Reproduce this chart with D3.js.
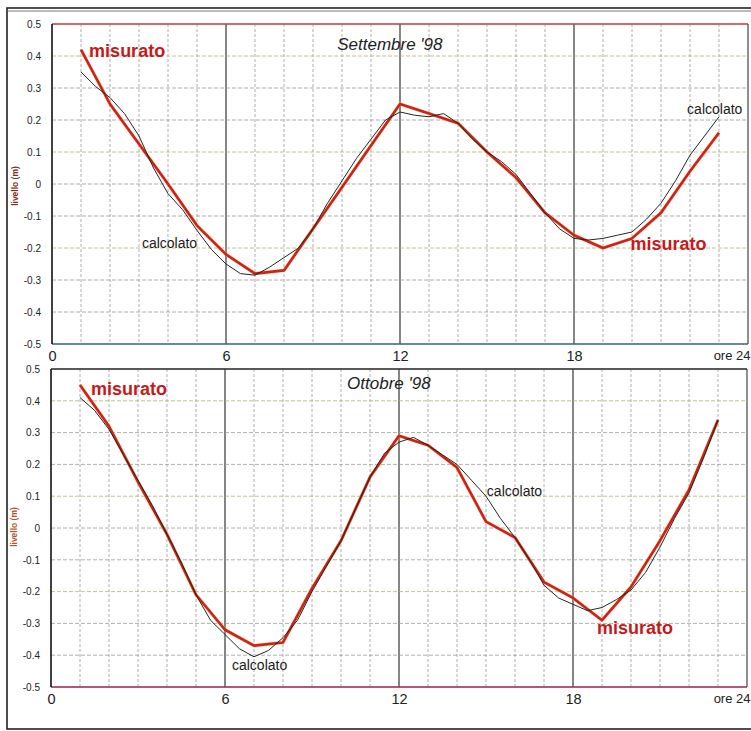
<!DOCTYPE html>
<html><head><meta charset="utf-8">
<script src="https://cdn.jsdelivr.net/npm/d3@7"></script>
<style>
html,body{margin:0;padding:0;background:#fff;}
svg{display:block;font-family:"Liberation Sans",Arial,sans-serif;}
</style></head>
<body>
<svg id="c" width="751" height="731"></svg>
<script>
// ---- data ----
const hoursMis = [1,2,3,4,5,6,7,8,9,10,11,12,13,14,15,16,17,18,19,20,21,22,23];
const hoursCalc = [1,1.5,2,2.5,3,3.5,4,4.5,5,5.5,6,6.5,7,7.5,8,8.5,9,9.5,10,10.5,11,11.5,12,12.5,13,13.5,14,14.5,15,15.5,16,16.5,17,17.5,18,18.5,19,19.5,20,20.5,21,21.5,22,22.5,23];

const setMisurato = [0.42,0.25,0.125,0.0,-0.13,-0.22,-0.28,-0.27,-0.14,-0.01,0.12,0.25,0.22,0.19,0.10,0.02,-0.09,-0.16,-0.20,-0.17,-0.09,0.04,0.16];
const setCalcolato = [0.35,0.305,0.27,0.22,0.15,0.05,-0.03,-0.08,-0.145,-0.205,-0.25,-0.28,-0.285,-0.26,-0.23,-0.20,-0.14,-0.06,0.01,0.08,0.14,0.20,0.225,0.215,0.21,0.22,0.19,0.14,0.10,0.07,0.03,-0.03,-0.09,-0.14,-0.17,-0.175,-0.17,-0.16,-0.15,-0.11,-0.06,0.01,0.09,0.15,0.21];

const ottMisurato = [0.45,0.32,0.145,-0.02,-0.21,-0.32,-0.37,-0.36,-0.19,-0.04,0.16,0.29,0.26,0.19,0.02,-0.03,-0.17,-0.22,-0.29,-0.185,-0.04,0.12,0.34];
const ottCalcolato = [0.41,0.37,0.31,0.23,0.15,0.07,-0.02,-0.11,-0.21,-0.29,-0.335,-0.38,-0.405,-0.385,-0.345,-0.29,-0.20,-0.12,-0.04,0.06,0.16,0.235,0.27,0.285,0.26,0.23,0.20,0.15,0.10,0.03,-0.03,-0.10,-0.18,-0.22,-0.24,-0.26,-0.25,-0.225,-0.195,-0.14,-0.06,0.03,0.11,0.22,0.34];

const yTicks = [0.5,0.4,0.3,0.2,0.1,0,-0.1,-0.2,-0.3,-0.4,-0.5];
const xTickHours = [0,6,12,18,24];
const xTickLabels = ["0","6","12","18","ore 24"];
const gridHours = d3.range(1,24);
const gridLevels = [0.4,0.3,0.2,0.1,0,-0.1,-0.2,-0.3,-0.4];

const panels = [
  {title:"Settembre '98", mis:setMisurato, calc:setCalcolato,
   x:[52,748], y:[344,24], titleAt:[11.65,0.42],
   notes:[{t:"misurato",h:1.28,v:0.397,red:true},{t:"calcolato",h:3.1,v:-0.2,red:false},
          {t:"calcolato",h:21.9,v:0.22,red:false},{t:"misurato",h:19.95,v:-0.206,red:true}],
   borders:{top:"#c43a3a",bottom:"#2d6a66"}, ylab:"#7a2a10"},
  {title:"Ottobre '98", mis:ottMisurato, calc:ottCalcolato,
   x:[51,747], y:[687,369], titleAt:[11.65,0.438],
   notes:[{t:"misurato",h:1.38,v:0.417,red:true},{t:"calcolato",h:6.24,v:-0.447,red:false},
          {t:"calcolato",h:15.03,v:0.1,red:false},{t:"misurato",h:18.83,v:-0.333,red:true}],
   borders:{top:"#222",bottom:"#9a2050"}, ylab:"#b0522a"}
];

const svg = d3.select("#c");
// outer frame
svg.append("rect").attr("x",7).attr("y",8).attr("width",760).attr("height",721)
  .attr("fill","none").attr("stroke","#222").attr("stroke-width",1.6);
svg.append("line").attr("x1",7).attr("x2",751).attr("y1",11).attr("y2",11).attr("stroke","#555").attr("stroke-width",0.8);

panels.forEach((p,pi)=>{
  const x = d3.scaleLinear().domain([0,24]).range(p.x);
  const y = d3.scaleLinear().domain([-0.5,0.5]).range(p.y);
  const g = svg.append("g");

  // grid
  g.selectAll(".vg").data(gridHours).join("line")
    .attr("x1",d=>x(d)).attr("x2",d=>x(d)).attr("y1",y(0.5)).attr("y2",y(-0.5))
    .attr("stroke",d=>d%6===0?"#222":"#9a9a9a")
    .attr("stroke-width",d=>d%6===0?1.1:0.8)
    .attr("stroke-dasharray",d=>d%6===0?null:"3,2");
  g.selectAll(".hg").data(gridLevels).join("line")
    .attr("x1",x(0)).attr("x2",x(24)).attr("y1",d=>y(d)).attr("y2",d=>y(d))
    .attr("stroke",(d,i)=> (i%3===0) ? "#b8b070" : "#9a9a9a")
    .attr("stroke-width",0.8).attr("stroke-dasharray","4,2");

  // borders
  g.append("line").attr("x1",x(0)).attr("x2",x(24)).attr("y1",y(0.5)).attr("y2",y(0.5))
    .attr("stroke",p.borders.top).attr("stroke-width",1.3);
  g.append("line").attr("x1",x(0)).attr("x2",x(24)).attr("y1",y(-0.5)).attr("y2",y(-0.5))
    .attr("stroke",p.borders.bottom).attr("stroke-width",1.6);
  g.append("line").attr("x1",x(24)).attr("x2",x(24)).attr("y1",y(0.5)).attr("y2",y(-0.5))
    .attr("stroke","#444").attr("stroke-width",1.2);
  g.append("line").attr("x1",x(0)).attr("x2",x(0)).attr("y1",y(0.5)).attr("y2",y(-0.5))
    .attr("stroke","#111").attr("stroke-width",1.6);

  // y axis labels
  const ay = g.append("g").attr("transform",`translate(${x(0)-8},0)`)
    .call(d3.axisLeft(y).tickValues(yTicks).tickSize(0).tickFormat(d=>d===0?"0":d.toFixed(1)));
  ay.select(".domain").remove();
  ay.selectAll("text").attr("font-size",10).attr("fill","#222").attr("font-family","Liberation Sans, Arial, sans-serif");

  // x axis labels
  const ax = g.append("g").attr("transform",`translate(0,${y(-0.5)})`)
    .call(d3.axisBottom(x).tickValues(xTickHours).tickSize(0).tickFormat((d,i)=>xTickLabels[i]));
  ax.select(".domain").remove();
  ax.selectAll("text").attr("font-size",d=>d===24?13:14.5).attr("fill","#222").attr("dy","0.9em").attr("y",4)
    .attr("font-family","Liberation Sans, Arial, sans-serif")
    .attr("text-anchor",(d)=>d===24?"end":"middle")
    .attr("x",d=>d===24?(750-x(24)):0);

  // y axis title
  g.append("text").attr("transform",`translate(${pi===0?18:17},${(y(0)+ (pi===0?2:-1))}) rotate(-90)`)
    .attr("text-anchor","middle").attr("font-size",8.5).attr("font-weight","bold")
    .attr("fill",p.ylab).text("livello (m)");

  // title
  g.append("text").attr("x",x(p.titleAt[0])).attr("y",y(p.titleAt[1]))
    .attr("text-anchor","middle").attr("font-size",17).attr("font-style","italic")
    .attr("fill","#222").text(p.title);

  // lines
  const line = d3.line().x(d=>x(d[0])).y(d=>y(d[1]));
  g.append("path").datum(hoursMis.map((h,i)=>[h,p.mis[i]]))
    .attr("d",line).attr("fill","none").attr("stroke","#f0c040").attr("stroke-width",3.6).attr("opacity",0.5);
  g.append("path").datum(hoursMis.map((h,i)=>[h,p.mis[i]]))
    .attr("d",line).attr("fill","none").attr("stroke","#cf1f1f").attr("stroke-width",2.6)
    .attr("stroke-linejoin","round");
  g.append("path").datum(hoursCalc.map((h,i)=>[h,p.calc[i]]))
    .attr("d",line).attr("fill","none").attr("stroke","#1e2a22").attr("stroke-width",1)
    .attr("stroke-linejoin","round");

  // annotations
  p.notes.forEach(n=>{
    g.append("text").attr("x",x(n.h)).attr("y",y(n.v))
      .attr("font-size",n.red?18:14).attr("font-weight",n.red?"bold":"normal")
      .attr("fill",n.red?"#c41a1a":"#1a1a1a").text(n.t);
  });
});
</script>
</body></html>
